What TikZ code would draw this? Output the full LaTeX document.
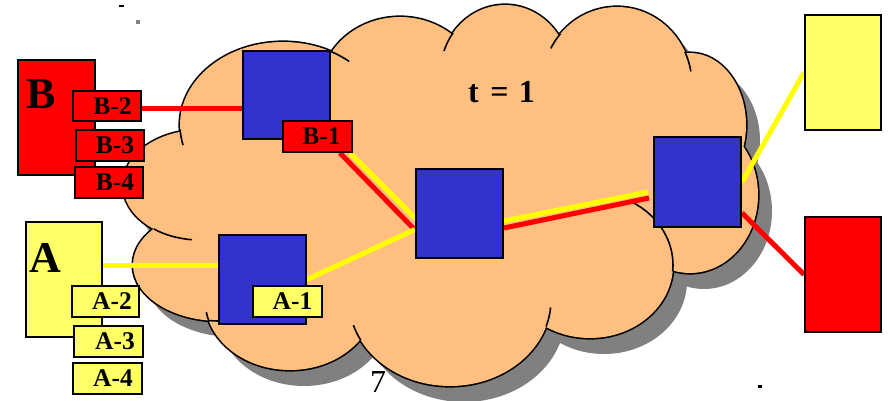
\documentclass[tikz,border=0pt]{standalone}
\usepackage{fontspec}
\setmainfont{Liberation Serif}
\definecolor{cloudfill}{RGB}{255,191,128}
\definecolor{shadowgray}{RGB}{128,128,128}
\definecolor{routerblue}{RGB}{51,51,204}
\definecolor{paleyellow}{RGB}{255,255,102}
\definecolor{pureyellow}{RGB}{255,255,0}
\definecolor{purered}{RGB}{255,0,0}
\pgfdeclarelayer{bg}
\pgfdeclarelayer{mid}
\pgfsetlayers{bg,mid,main}
\tikzset{
  box/.style={draw=black, line width=2pt, inner sep=0pt, text=black,
    font=\bfseries\fontsize{25.5}{25.5}\selectfont},
  redbox/.style={box, fill=purered},
  yellowbox/.style={box, fill=paleyellow},
  router/.style={box, fill=routerblue},
  bigletter/.style={inner sep=0pt, font=\bfseries\fontsize{44}{44}\selectfont},
  yline/.style={draw=pureyellow, line width=5pt},
  rline/.style={draw=purered, line width=5pt},
  cloudline/.style={draw=black, line width=1.6pt},
}
\begin{document}
\begin{tikzpicture}[x=1pt,y=-1pt]
\useasboundingbox (0,0) rectangle (889,401);
\def\lobelist{283/125/103/83, 400/90/80/73, 505/75/65/70, 617/85/75/78, 690/125/56/72, 690/195/68/78, 590/265/83/73, 450/300/101/86, 290/300/85/70, 220/265/87/56, 200/185/77/55}
\begin{pgfonlayer}{bg}
\foreach \cx/\cy/\rx/\ry in \lobelist {
  \fill[shadowgray] (\cx+14,\cy+16) ellipse [x radius=\rx, y radius=\ry];
}
\fill[shadowgray] (464,196) ellipse [x radius=240, y radius=110];
\foreach \cx/\cy/\rx/\ry in \lobelist {
  \draw[black, line width=3.2pt] (\cx,\cy) ellipse [x radius=\rx, y radius=\ry];
}
\foreach \cx/\cy/\rx/\ry in \lobelist {
  \fill[cloudfill] (\cx,\cy) ellipse [x radius=\rx, y radius=\ry];
}
\fill[cloudfill] (450,180) ellipse [x radius=240, y radius=110];
% interior arcs of the cloud
\draw[cloudline] (283,125) ++(-62:103 and 83) arc[start angle=-62, end angle=-50, x radius=103, y radius=83];
\draw[cloudline] (283,125) ++(166:103 and 83) arc[start angle=166, end angle=177, x radius=103, y radius=83];
\draw[cloudline] (505,75) ++(-160:65 and 70) arc[start angle=-160, end angle=-143, x radius=65, y radius=70];
\draw[cloudline] (617,85) ++(-152:75 and 78) arc[start angle=-152, end angle=-139, x radius=75, y radius=78];
\draw[cloudline] (617,85) ++(-25:75 and 78) arc[start angle=-25, end angle=-10, x radius=75, y radius=78];
\draw[cloudline] (590,265) ++(-60:83 and 73) arc[start angle=-60, end angle=5, x radius=83, y radius=73];
\draw[cloudline] (450,300) ++(5:101 and 86) arc[start angle=5, end angle=18, x radius=101, y radius=86];
\draw[cloudline] (450,300) ++(152:101 and 86) arc[start angle=152, end angle=163, x radius=101, y radius=86];
\draw[cloudline] (220,265) ++(86:87 and 56) arc[start angle=86, end angle=97, x radius=87, y radius=56];
\draw[cloudline] (290,300) ++(162:85 and 70) arc[start angle=162, end angle=170, x radius=85, y radius=70];
\draw[cloudline] (200,185) ++(96:77 and 55) arc[start angle=96, end angle=127, x radius=77, y radius=55];
\end{pgfonlayer}

% texts on the cloud
\node[inner sep=0pt, font=\bfseries\fontsize{32}{32}\selectfont] (tlabel) at (501.5,92.5) {t\hspace{0.36em}=\hspace{0.32em}1};
\node[inner sep=0pt, font=\fontsize{32}{32}\selectfont] (pagenum) at (378,382.5) {7};

% B side
\node[redbox, minimum width=77pt, minimum height=115pt] (B) at (56.5,117.5) {};
\node[bigletter] (Blbl) at (41,94) {B};
\node[redbox, minimum width=68pt, minimum height=30pt] (B2) at (107,106) {\hspace*{11pt}B-2};
\node[redbox, minimum width=68pt, minimum height=31pt] (B3) at (110,145.5) {\hspace*{10pt}B-3};
\node[redbox, minimum width=68pt, minimum height=31pt] (B4) at (109,182.5) {\hspace*{12pt}B-4};

% A side
\node[yellowbox, minimum width=76pt, minimum height=115pt] (A) at (64,279.5) {};
\node[bigletter] (Albl) at (45.5,258) {A};
\node[yellowbox, minimum width=67pt, minimum height=31pt] (A2) at (105.5,301.5) {\hspace*{13pt}A-2};
\node[yellowbox, minimum width=69pt, minimum height=31pt] (A3) at (108.5,341.5) {\hspace*{13pt}A-3};
\node[yellowbox, minimum width=69pt, minimum height=31pt] (A4) at (107.5,378.5) {\hspace*{11pt}A-4};

% routers
\node[router, minimum width=87pt, minimum height=88pt] (rB) at (286.5,95) {};
\node[redbox, minimum width=69pt, minimum height=31pt] (B1) at (317.5,136.5) {\hspace*{8pt}B-1};
\node[router, minimum width=87pt, minimum height=89pt] (rA) at (262.5,279.5) {};
\node[yellowbox, minimum width=69pt, minimum height=31pt] (A1) at (287.5,301.5) {\hspace*{10pt}A-1};
\node[router, minimum width=87pt, minimum height=89pt] (C) at (459.5,213.5) {};
\node[router, minimum width=87pt, minimum height=90pt] (R) at (697.5,182) {};

% right hosts
\node[yellowbox, minimum width=76pt, minimum height=115pt] (Y) at (843,72.5) {};
\node[redbox, minimum width=76pt, minimum height=115pt] (RR) at (843,274.5) {};

% connectors
\begin{pgfonlayer}{mid}
\coordinate (b2r) at ([yshift=-3pt]B2.east);
\draw[rline] (b2r) -- (b2r -| rB.west);
\draw[rline] ([xshift=22.5pt]B1.south) -- ([yshift=-16.5pt]C.west);
\draw[yline] ([xshift=32.5pt]B1.south) -- ([yshift=-4.5pt]C.west);
\draw[yline] (rA.east) -- ([yshift=-16pt]C.west);
\coordinate (ar) at ([yshift=14.5pt]A.east);
\draw[yline] (ar) -- (ar -| rA.west);
\draw[rline] ([yshift=-14.5pt]C.east) -- ([xshift=-4pt,yshift=-16pt]R.west);
\draw[yline] ([yshift=-7.5pt]C.east) -- ([xshift=-5pt,yshift=-10pt]R.west);
\draw[yline] (R.east) -- (Y.west);
\draw[rline] ([yshift=-31pt]R.east) -- (RR.west);
\end{pgfonlayer}

% small marks
\fill[black] (119,5) rectangle (124,7.5);
\fill[shadowgray] (136,20.5) rectangle (140,24);
\fill[black] (758,385) rectangle (762,388);
\end{tikzpicture}
\end{document}
